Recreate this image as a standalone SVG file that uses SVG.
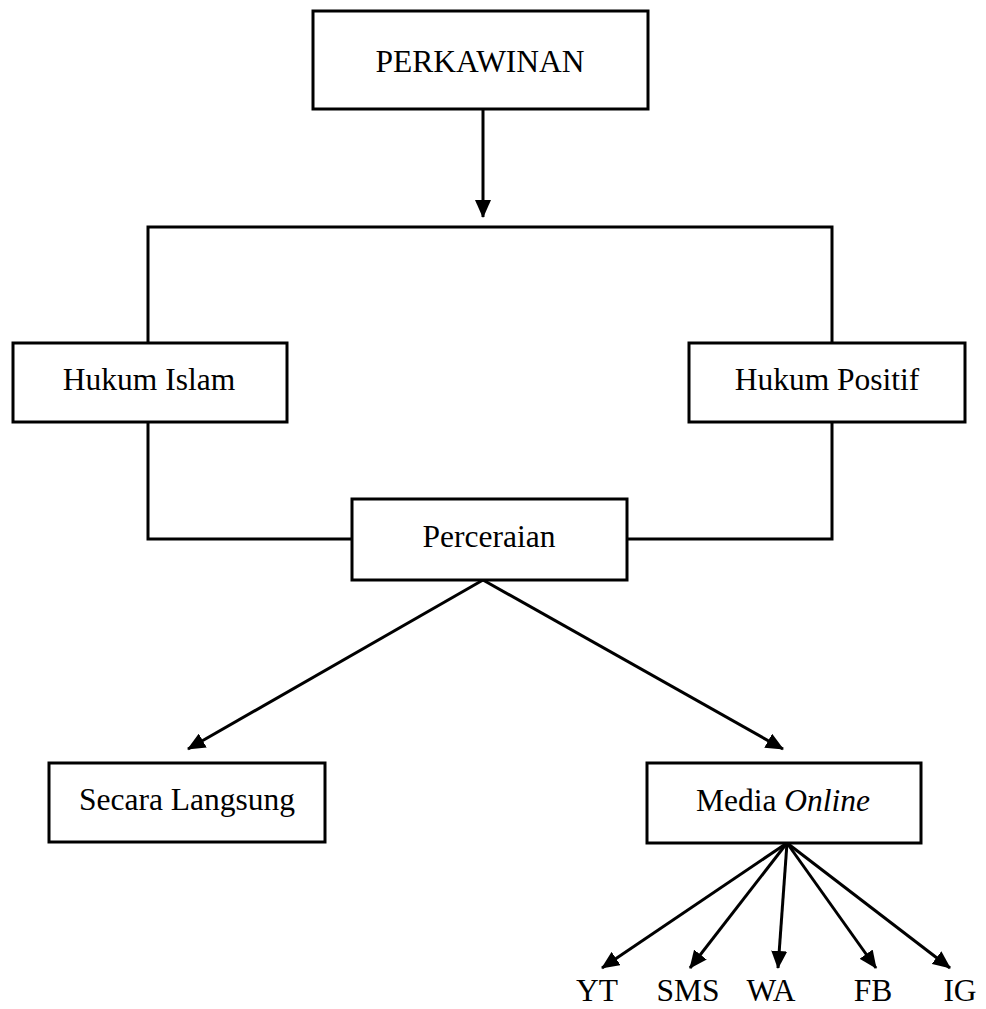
<svg xmlns="http://www.w3.org/2000/svg" width="986" height="1009" viewBox="0 0 986 1009">
<style>
.box{fill:#fff;stroke:#000;stroke-width:3}
.ln{fill:none;stroke:#000;stroke-width:3}
.t{font-family:"Liberation Serif","Times New Roman",serif;font-size:31.5px;fill:#000;text-anchor:middle}
</style>
<defs>
<marker id="ah" markerUnits="userSpaceOnUse" markerWidth="18" markerHeight="16" viewBox="0 0 18 16" refX="17" refY="8" orient="auto">
<path d="M0,0 L18,8 L0,16 Z" fill="#000"/>
</marker>
</defs>
<rect width="986" height="1009" fill="#fff"/>
<g id="connectors">
<line class="ln" x1="483" y1="109" x2="483" y2="217" marker-end="url(#ah)"/>
<polyline class="ln" points="148,343 148,227 832,227 832,343"/>
<polyline class="ln" points="148,422 148,539 352,539"/>
<polyline class="ln" points="832,422 832,539 627,539"/>
<line class="ln" x1="483" y1="580" x2="188" y2="749" marker-end="url(#ah)"/>
<line class="ln" x1="483" y1="580" x2="783" y2="749" marker-end="url(#ah)"/>
<line class="ln" x1="787" y1="843" x2="602" y2="968" marker-end="url(#ah)"/>
<line class="ln" x1="787" y1="843" x2="690" y2="968" marker-end="url(#ah)"/>
<line class="ln" x1="787" y1="843" x2="778" y2="968" marker-end="url(#ah)"/>
<line class="ln" x1="787" y1="843" x2="876" y2="968" marker-end="url(#ah)"/>
<line class="ln" x1="787" y1="843" x2="950" y2="968" marker-end="url(#ah)"/>
</g>
<g id="perkawinan"><rect class="box" x="313" y="11" width="335" height="98"/><text class="t" x="480" y="72">PERKAWINAN</text></g>
<g id="hukum-islam"><rect class="box" x="13" y="343" width="274" height="79"/><text class="t" x="149" y="390">Hukum Islam</text></g>
<g id="hukum-positif"><rect class="box" x="689" y="343" width="276" height="79"/><text class="t" x="827" y="390">Hukum Positif</text></g>
<g id="perceraian"><rect class="box" x="352" y="499" width="275" height="81"/><text class="t" x="489" y="547">Perceraian</text></g>
<g id="secara-langsung"><rect class="box" x="49" y="763" width="276" height="79"/><text class="t" x="187" y="810">Secara Langsung</text></g>
<g id="media-online"><rect class="box" x="647" y="763" width="274" height="80"/><text class="t" x="783" y="811">Media <tspan font-style="italic">Online</tspan></text></g>
<g id="yt"><text class="t" x="597" y="1001">YT</text></g>
<g id="sms"><text class="t" x="688" y="1001">SMS</text></g>
<g id="wa"><text class="t" x="771" y="1001">WA</text></g>
<g id="fb"><text class="t" x="873" y="1001">FB</text></g>
<g id="ig"><text class="t" x="960" y="1001">IG</text></g>
</svg>
